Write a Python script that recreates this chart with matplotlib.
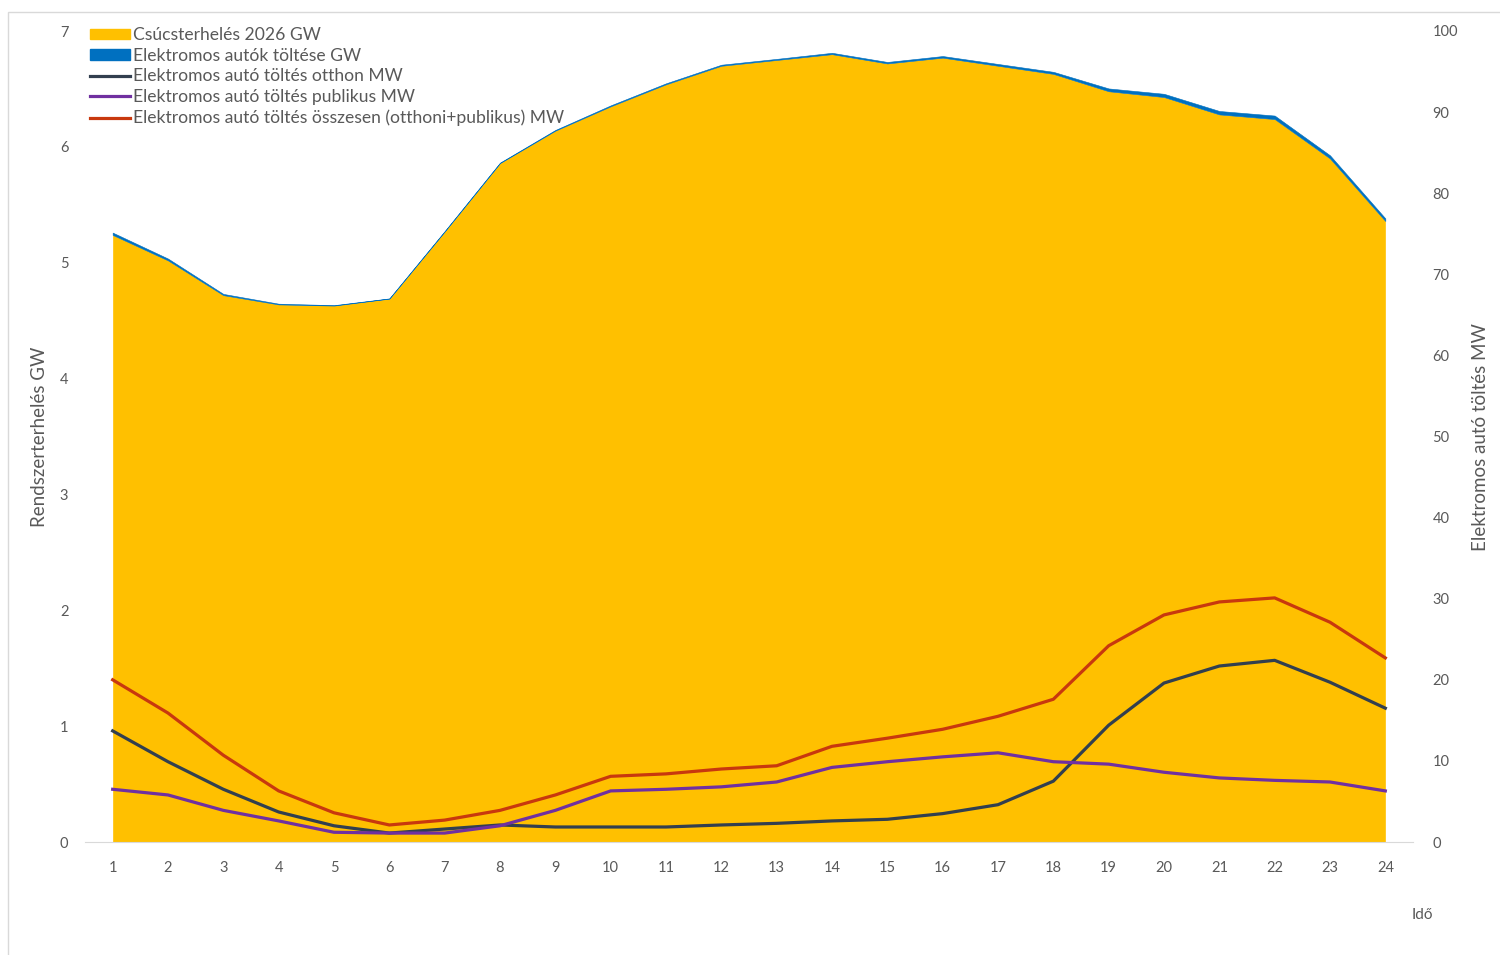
import matplotlib
matplotlib.use("Agg")
import matplotlib.pyplot as plt
from matplotlib.patches import Rectangle, Patch
from matplotlib.lines import Line2D
import numpy as np

# Hourly system load and EV charging profile
hours = list(range(1, 25))
peak_load_gw = [5.24, 5.02, 4.72, 4.64, 4.63, 4.69, 5.27, 5.86, 6.14, 6.35,
                6.54, 6.70, 6.75, 6.80, 6.72, 6.77, 6.70, 6.63, 6.48, 6.43,
                6.28, 6.24, 5.90, 5.36]
home_mw = [13.7, 9.9, 6.5, 3.7, 2.0, 1.1, 1.6, 2.1, 1.85, 1.85,
           1.85, 2.1, 2.3, 2.6, 2.8, 3.5, 4.6, 7.5, 14.4, 19.6,
           21.7, 22.4, 19.7, 16.5]
public_mw = [6.5, 5.8, 3.9, 2.6, 1.2, 1.1, 1.1, 2.0, 3.9, 6.3,
             6.5, 6.8, 7.4, 9.2, 9.9, 10.5, 11.0, 9.9, 9.6, 8.6,
             7.9, 7.6, 7.4, 6.3]
total_mw = [20.0, 15.9, 10.7, 6.3, 3.6, 2.1, 2.7, 3.9, 5.8, 8.1,
            8.4, 9.0, 9.4, 11.8, 12.8, 13.9, 15.5, 17.6, 24.2, 28.0,
            29.6, 30.1, 27.1, 22.7]

ORANGE = "#FFC000"
BLUE = "#0070C0"
DARK = "#323F4F"
PURPLE = "#7030A0"
RED = "#C8380E"
GRAY = "#595959"

plt.rcParams["font.family"] = ["Lato", "DejaVu Sans"]

fig = plt.figure(figsize=(15, 9.55), dpi=100)
fig.add_artist(Rectangle((8 / 1500, -0.05), 1.2, 1 - 12 / 955 + 0.05,
                         transform=fig.transFigure, fill=False,
                         edgecolor="#D9D9D9", linewidth=1.0))

ax = fig.add_axes([85 / 1500, 1 - 842 / 955, (1413 - 85) / 1500, (842 - 31) / 955])
ax2 = ax.twinx()

x = np.array(hours)
peak = np.array(peak_load_gw)
ev_gw = np.array(total_mw) / 1000.0

ax.fill_between(x, 0, peak, color=ORANGE, linewidth=0)
ax.fill_between(x, peak, peak + ev_gw, color=BLUE, linewidth=0.4, edgecolor=BLUE)

ax2.plot(x, home_mw, color=DARK, linewidth=2.3, solid_joinstyle="round")
ax2.plot(x, public_mw, color=PURPLE, linewidth=2.3, solid_joinstyle="round")
ax2.plot(x, total_mw, color=RED, linewidth=2.3, solid_joinstyle="round")

ax.set_xlim(0.5, 24.5)
ax.set_ylim(0, 7)
ax2.set_ylim(0, 100)
ax.set_xticks(hours)
ax.set_yticks(range(0, 8))
ax2.set_yticks(range(0, 101, 10))

for a in (ax, ax2):
    for s in a.spines.values():
        s.set_visible(False)
    a.tick_params(length=0, colors=GRAY, labelsize=10.5)
ax.spines["bottom"].set_visible(True)
ax.spines["bottom"].set_color("#D9D9D9")
ax.tick_params(axis="x", pad=14)
ax.tick_params(axis="y", pad=12)
ax2.tick_params(axis="y", pad=14)

# Axis titles placed directly in figure coordinates
fig.text(40 / 1500, 1 - 437 / 955, "Rendszerterhelés GW", color=GRAY,
         fontsize=13.5, rotation=90, ha="center", va="center")
fig.text(1481 / 1500, 1 - 437 / 955, "Elektromos autó töltés MW", color=GRAY,
         fontsize=13.5, rotation=90, ha="center", va="center")
fig.text(1422 / 1500, 1 - 915 / 955, "Idő", color=GRAY, fontsize=11,
         ha="center", va="center")

handles = [
    Patch(facecolor=ORANGE, edgecolor=ORANGE),
    Patch(facecolor=BLUE, edgecolor=BLUE),
    Line2D([], [], color=DARK, linewidth=2.3),
    Line2D([], [], color=PURPLE, linewidth=2.3),
    Line2D([], [], color=RED, linewidth=2.3),
]
labels = [
    "Csúcsterhelés 2026 GW",
    "Elektromos autók töltése GW",
    "Elektromos autó töltés otthon MW",
    "Elektromos autó töltés publikus MW",
    "Elektromos autó töltés összesen (otthoni+publikus) MW",
]
leg = fig.legend(handles, labels, loc="upper left",
                 bbox_to_anchor=(90 / 1500, 1 - 27 / 955), frameon=False,
                 fontsize=12.6, labelcolor=GRAY, handlelength=2.3,
                 handleheight=0.55, handletextpad=0.15, labelspacing=0.27,
                 borderpad=0, borderaxespad=0)

fig.savefig("out.png", dpi=100)
